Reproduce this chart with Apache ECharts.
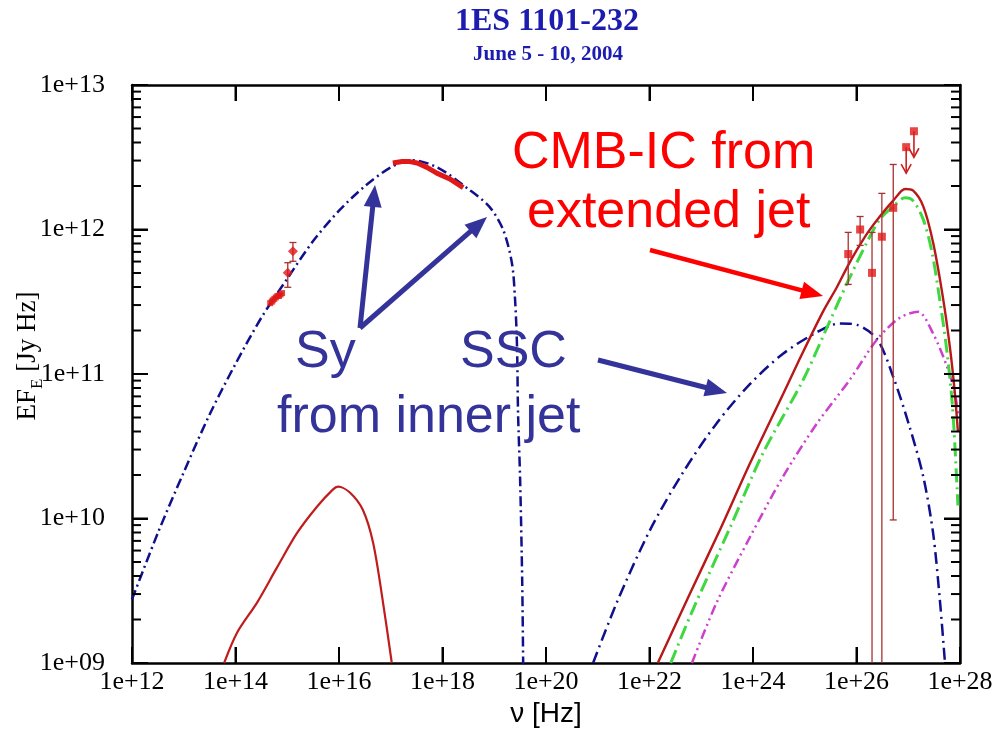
<!DOCTYPE html>
<html><head><meta charset="utf-8">
<script src="https://cdn.jsdelivr.net/npm/echarts@6.0.0/dist/echarts.min.js"></script>
<style>html,body{margin:0;padding:0;background:#fff}#c{width:999px;height:729px}</style>
</head><body><div id="c"></div>
<script>
// All values are log10(nu [Hz]) and log10(E F_E [Jy Hz])
const xTicks = [12, 14, 16, 18, 20, 22, 24, 26, 28];
const yTicks = [9, 10, 11, 12, 13];

// Synchrotron from inner jet (blue dash-dot)
const syInner = [[12.0,9.44],[12.5,9.90],[13.0,10.32],[13.5,10.72],[14.0,11.07],[14.5,11.39],[15.0,11.66],[15.5,11.92],[16.0,12.13],[16.5,12.30],[17.0,12.43],[17.4,12.48],[17.9,12.43],[18.5,12.28],[18.9,12.16],[19.17,12.00],[19.34,11.77],[19.40,11.53],[19.44,11.19],[19.46,10.73],[19.50,10.27],[19.54,9.57],[19.56,8.95]];
// Synchrotron from extended jet (red solid, low)
const syExt = [[13.78,9.0],[14.03,9.21],[14.42,9.42],[14.80,9.66],[15.19,9.90],[15.57,10.08],[15.88,10.20],[15.98,10.22],[16.21,10.18],[16.46,10.06],[16.66,9.83],[16.85,9.42],[17.02,9.0]];
// SSC from inner jet (blue dash-dot)
const ssc = [[20.91,9.0],[21.37,9.42],[22.01,9.92],[22.65,10.32],[23.30,10.66],[23.94,10.93],[24.58,11.14],[25.24,11.29],[25.68,11.35],[26.01,11.34],[26.40,11.24],[26.71,10.98],[27.03,10.63],[27.29,10.29],[27.48,9.90],[27.61,9.44],[27.71,9.0]];
// CMB-IC total from extended jet (red solid)
const cmbTotal = [[22.16,9.0],[22.78,9.48],[23.36,9.92],[23.94,10.38],[24.58,10.86],[24.91,11.11],[25.35,11.43],[25.62,11.60],[25.82,11.74],[26.01,11.86],[26.22,11.98],[26.45,12.09],[26.71,12.20],[26.94,12.28],[27.09,12.27],[27.29,12.16],[27.48,11.91],[27.67,11.53],[27.81,11.17],[27.90,10.87],[27.96,10.6]];
// CMB-IC component (green dash-dot)
const cmbGreen = [[22.41,9.0],[22.84,9.37],[23.56,9.94],[24.19,10.45],[24.97,10.96],[25.49,11.37],[25.82,11.63],[26.20,11.91],[26.45,12.07],[26.71,12.16],[26.94,12.22],[27.09,12.20],[27.29,12.07],[27.46,11.84],[27.61,11.51],[27.75,11.15],[27.86,10.75],[27.96,10.09]];
// CMB-IC component (magenta dash-dot-dot)
const cmbMagenta = [[22.82,9.0],[23.30,9.42],[23.94,9.87],[24.58,10.29],[25.24,10.66],[25.87,10.96],[26.40,11.24],[26.84,11.39],[27.19,11.43],[27.48,11.28],[27.75,11.05],[27.90,10.87],[27.97,10.7]];

// Observed data
const irCluster = [[14.67,11.49],[14.70,11.50],[14.72,11.51],[14.75,11.52],[14.78,11.53],[14.81,11.54],[14.84,11.54],[14.87,11.55],[14.90,11.56]];
const opticalPts = [[15.01,11.70,11.60,11.77],[15.11,11.85,11.78,11.91]]; // x, y, low, high
const xraySpec = [[17.04,12.46],[17.22,12.47],[17.37,12.47],[17.51,12.46],[17.70,12.43],[17.89,12.39],[18.14,12.35],[18.40,12.29]];
const gammaPts = [[25.84,11.83,11.62,11.98],[26.07,12.00,11.89,12.09],[26.30,11.70,9.0,11.98],[26.49,11.95,9.0,12.25],[26.71,12.15,9.99,12.45]];
const upperLimits = [[26.96,12.57],[27.11,12.68]];

const BLUE_TXT = '#333399', RED_TXT = '#ff0000';
const XA = xTicks[0], XB = xTicks[xTicks.length-1], YA = yTicks[0], YB = yTicks[yTicks.length-1];

// Tick descriptors (positions in axis units; length is style): [x, y, lengthPx]
const xTickItems = xTicks.map(t => [t, YA, 16]);
const yTickItems = [];
yTicks.forEach((t, i) => {
  yTickItems.push([XA, t, 16]);
  if (i < yTicks.length-1) for (let k = 2; k <= 9; k++) yTickItems.push([XA, t + Math.log10(k), 9]);
});

const chart = echarts.init(document.getElementById('c'));

function pad(v){ return v < 10 ? '0' + v : '' + v; }
function axisCommon(){
  return {
    axisLine:{show:true, onZero:false, lineStyle:{color:'#000', width:2.5}},
    axisTick:{show:true, inside:true, length:16, lineStyle:{color:'#000', width:2}},
    splitLine:{show:false}, minorTick:{show:false}
  };
}
function arrow(x1,y1,x2,y2,color,w,L,H){
  const dx=x2-x1, dy=y2-y1, len=Math.hypot(dx,dy), ux=dx/len, uy=dy/len;
  const bx=x2-ux*L, by=y2-uy*L;
  return [
    {type:'line', z:100, shape:{x1:x1,y1:y1,x2:bx+ux*2,y2:by+uy*2}, style:{stroke:color, lineWidth:w}},
    {type:'polygon', z:100, shape:{points:[[x2,y2],[bx-uy*H,by+ux*H],[bx+uy*H,by-ux*H]]}, style:{fill:color}}
  ];
}
function errRender(params, api){
  const x=api.value(0), lo=api.value(2), hi=api.value(3);
  const p1=api.coord([x,lo]), p2=api.coord([x,hi]);
  const ch=[{type:'line', shape:{x1:p1[0],y1:p1[1],x2:p2[0],y2:p2[1]}, style:{stroke:'#a83030', lineWidth:1.3}}];
  ch.push({type:'line', shape:{x1:p2[0]-3.5,y1:p2[1],x2:p2[0]+3.5,y2:p2[1]}, style:{stroke:'#a83030', lineWidth:1.3}});
  if (lo > 9.001) ch.push({type:'line', shape:{x1:p1[0]-3.5,y1:p1[1],x2:p1[0]+3.5,y2:p1[1]}, style:{stroke:'#a83030', lineWidth:1.3}});
  return {type:'group', children:ch};
}
function xTickRender(params, api){
  const t=api.value(0), L=api.value(2);
  const b=api.coord([t, YA]), tp=api.coord([t, YB]);
  return {type:'group', children:[
    {type:'rect', shape:{x:b[0]-1, y:b[1]-L, width:2, height:L}, style:{fill:'#000'}},
    {type:'rect', shape:{x:tp[0]-1, y:tp[1], width:2, height:L}, style:{fill:'#000'}}
  ]};
}
function yTickRender(params, api){
  const v=api.value(1), L=api.value(2);
  const l=api.coord([XA, v]), r=api.coord([XB, v]);
  return {type:'group', children:[
    {type:'rect', shape:{x:l[0], y:l[1]-1, width:L, height:2}, style:{fill:'#000'}},
    {type:'rect', shape:{x:r[0]-L, y:r[1]-1, width:L, height:2}, style:{fill:'#000'}}
  ]};
}

const graphics = [
  {type:'text', z:100, style:{x:547, y:22, text:'1ES 1101-232', font:'bold 32px "Liberation Serif"', fill:'#1c1cb0', textAlign:'center', textVerticalAlign:'middle'}},
  {type:'text', z:100, style:{x:548, y:55, text:'June 5 - 10, 2004', font:'bold 21px "Liberation Serif"', fill:'#1c1cb0', textAlign:'center', textVerticalAlign:'middle'}},
  {type:'text', z:100, x:28, y:356, rotation:Math.PI/2, style:{x:0, y:0, text:'{a|EF}{b|E}{a| [Jy Hz]}', textAlign:'center', textVerticalAlign:'middle',
    rich:{a:{fontFamily:'Liberation Serif', fontSize:27, color:'#000', lineHeight:36, verticalAlign:'middle'}, b:{fontFamily:'Liberation Serif', fontSize:17, color:'#000', lineHeight:17, verticalAlign:'bottom'}}}},
  {type:'text', z:100, style:{x:546, y:714, text:'ν [Hz]', font:'28px "Liberation Sans"', fill:'#000', textAlign:'center', textVerticalAlign:'middle'}},
  {type:'text', z:100, style:{x:512, y:154, text:'CMB-IC from', font:'52px "Liberation Sans"', fill:RED_TXT, textAlign:'left', textVerticalAlign:'middle'}},
  {type:'text', z:100, style:{x:527, y:213, text:'extended jet', font:'52px "Liberation Sans"', fill:RED_TXT, textAlign:'left', textVerticalAlign:'middle'}},
  {type:'text', z:100, style:{x:295, y:353, text:'Sy', font:'52px "Liberation Sans"', fill:BLUE_TXT, textAlign:'left', textVerticalAlign:'middle'}},
  {type:'text', z:100, style:{x:460, y:353, text:'SSC', font:'52px "Liberation Sans"', fill:BLUE_TXT, textAlign:'left', textVerticalAlign:'middle'}},
  {type:'text', z:100, style:{x:277, y:418, text:'from inner jet', font:'52px "Liberation Sans"', fill:BLUE_TXT, textAlign:'left', textVerticalAlign:'middle'}}
].concat(arrow(360,328,375,185,BLUE_TXT,5,22,9))
 .concat(arrow(360,328,487,217,BLUE_TXT,5,22,9))
 .concat(arrow(598,360,727,393,BLUE_TXT,5,22,9))
 .concat(arrow(650,250,823,296,RED_TXT,4.5,22,9));

const SM = 0.3;
chart.setOption({
  animation:false,
  backgroundColor:'#ffffff',
  grid:{left:132, right:39, top:85, bottom:66, containLabel:false},
  xAxis:[
    Object.assign(axisCommon(), {type:'value', min:12, max:28, interval:2, position:'bottom',
      axisLabel:{show:true, formatter:v=>'1e+'+v, fontFamily:'Liberation Serif', fontSize:26, color:'#000', margin:6, showMinLabel:true, showMaxLabel:true}}),
    Object.assign(axisCommon(), {type:'value', min:12, max:28, interval:2, position:'top', axisLabel:{show:false}})
  ],
  yAxis:[
    Object.assign(axisCommon(), {type:'value', min:9, max:13, interval:1, position:'left',
      axisLabel:{show:true, formatter:v=>'1e+'+pad(v), fontFamily:'Liberation Serif', fontSize:26, color:'#000', margin:27, showMinLabel:true, showMaxLabel:true}}),
    Object.assign(axisCommon(), {type:'value', min:9, max:13, interval:1, position:'right', axisLabel:{show:false}})
  ],
  graphic: graphics,
  series:[
    {type:'line', data:syInner, symbol:'none', smooth:SM, lineStyle:{color:'#10108c', width:2.5, type:[10,4,2,4]}, z:3},
    {type:'line', data:syExt, symbol:'none', smooth:SM, lineStyle:{color:'#c01c1c', width:2.2, type:'solid'}, z:3},
    {type:'line', data:ssc, symbol:'none', smooth:SM, lineStyle:{color:'#10108c', width:2.5, type:[12,5,2,5]}, z:3},
    {type:'line', data:cmbMagenta, symbol:'none', smooth:SM, lineStyle:{color:'#cc40cc', width:2.5, type:[10,4,2,4,2,4]}, z:3},
    {type:'line', data:cmbGreen, symbol:'none', smooth:SM, lineStyle:{color:'#40d840', width:3, type:[14,5,2,5]}, z:4},
    {type:'line', data:cmbTotal, symbol:'none', smooth:SM, lineStyle:{color:'#b81818', width:2.4, type:'solid'}, z:5},
    {type:'custom', data:opticalPts.concat(gammaPts), renderItem:errRender, z:6},
    {type:'scatter', data:irCluster, symbol:'rect', symbolSize:6, itemStyle:{color:'#e01818'}, z:7},
    {type:'scatter', data:opticalPts.map(p=>[p[0],p[1]]), symbol:'diamond', symbolSize:10, itemStyle:{color:'#e01818'}, z:7},
    {type:'line', data:xraySpec, symbol:'none', lineStyle:{color:'#e01818', width:5}, z:7},
    {type:'scatter', data:gammaPts.map(p=>[p[0],p[1]]), symbol:'rect', symbolSize:8, itemStyle:{color:'#e01818'}, z:7},
    {type:'scatter', data:upperLimits, symbol:'rect', symbolSize:8, itemStyle:{color:'#e01818'}, z:7},
    {type:'custom', data:upperLimits, z:6, renderItem:function(params, api){
      const p=api.coord([api.value(0), api.value(1)]);
      const c='#cc2020', L=26;
      return {type:'group', children:[
        {type:'line', shape:{x1:p[0],y1:p[1],x2:p[0],y2:p[1]+L}, style:{stroke:c, lineWidth:1.6}},
        {type:'polyline', shape:{points:[[p[0]-5,p[1]+L-9],[p[0],p[1]+L],[p[0]+5,p[1]+L-9]]}, style:{stroke:c, lineWidth:1.6, fill:null}}
      ]};
    }},
    {type:'custom', data:xTickItems, renderItem:xTickRender, zlevel:1, z:200, silent:true, clip:false},
    {type:'custom', data:yTickItems, renderItem:yTickRender, zlevel:1, z:200, silent:true, clip:false}
  ]
});
</script>
</body></html>
